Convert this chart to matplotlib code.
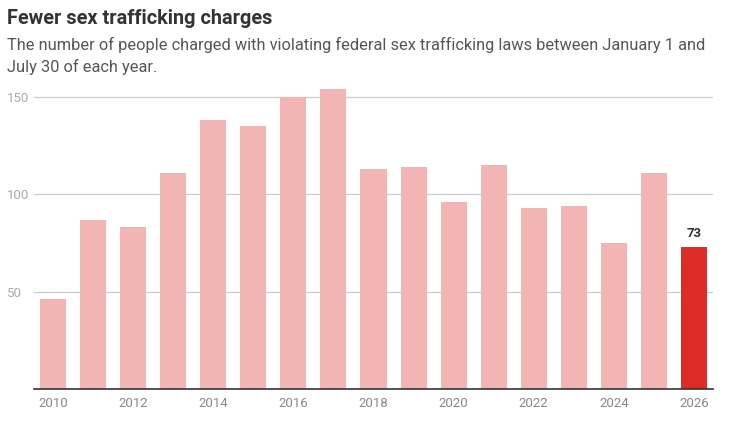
import matplotlib
matplotlib.use("Agg")
import matplotlib.pyplot as plt

years = list(range(2010, 2027))
charges = [46, 87, 83, 111, 138, 135, 150, 154, 113, 114, 96, 115, 93, 94, 75, 111, 73]
tick_years = [2010, 2012, 2014, 2016, 2018, 2020, 2022, 2024, 2026]
y_ticks = [50, 100, 150]

plt.rcParams["font.family"] = ["Roboto", "DejaVu Sans"]

pink = "#f2b5b4"
red = "#de2c27"
colors = [pink] * (len(years) - 1) + [red]

fig = plt.figure(figsize=(7.37, 4.29), dpi=100)
ax = fig.add_axes([34 / 737, 1 - 389 / 429, (713 - 34) / 737, (389 - 85.3) / 429])

ax.bar(years, charges, width=0.65, color=colors, zorder=2)
ax.set_xlim(2009.525, 2026.475)
ax.set_ylim(0, 156)

# y labels sit left-aligned at the figure edge
ax.set_yticks(y_ticks)
ax.grid(axis="y", color="#cccccc", linewidth=0.9, zorder=0)
ax.tick_params(axis="y", length=0, pad=19.4, labelsize=9.5, labelcolor="#aaaaaa")
for lbl in ax.get_yticklabels():
    lbl.set_horizontalalignment("left")

ax.set_xticks(tick_years)
ax.tick_params(axis="x", length=0, pad=6, labelsize=9.5, labelcolor="#888888")

for s in ["top", "right", "left"]:
    ax.spines[s].set_visible(False)
ax.spines["bottom"].set_color("#333333")
ax.spines["bottom"].set_linewidth(1.2)
ax.spines["bottom"].set_zorder(3)

ax.annotate(str(charges[-1]), (years[-1], charges[-1]), xytext=(0, 5),
            textcoords="offset points", ha="center", va="bottom",
            fontsize=9.5, fontweight="bold", color="#333333")

fig.text(7 / 737, 1 - 18 / 429, "Fewer sex trafficking charges", fontsize=14.3,
         fontweight="bold", color="#333333", va="center", ha="left")
fig.text(7 / 737, 1 - 45 / 429,
         "The number of people charged with violating federal sex trafficking laws between January 1 and",
         fontsize=11.75, color="#555555", va="center", ha="left")
fig.text(7 / 737, 1 - 67 / 429, "July 30 of each year.",
         fontsize=11.75, color="#555555", va="center", ha="left")

fig.savefig("out.png", dpi=100, facecolor="white")
